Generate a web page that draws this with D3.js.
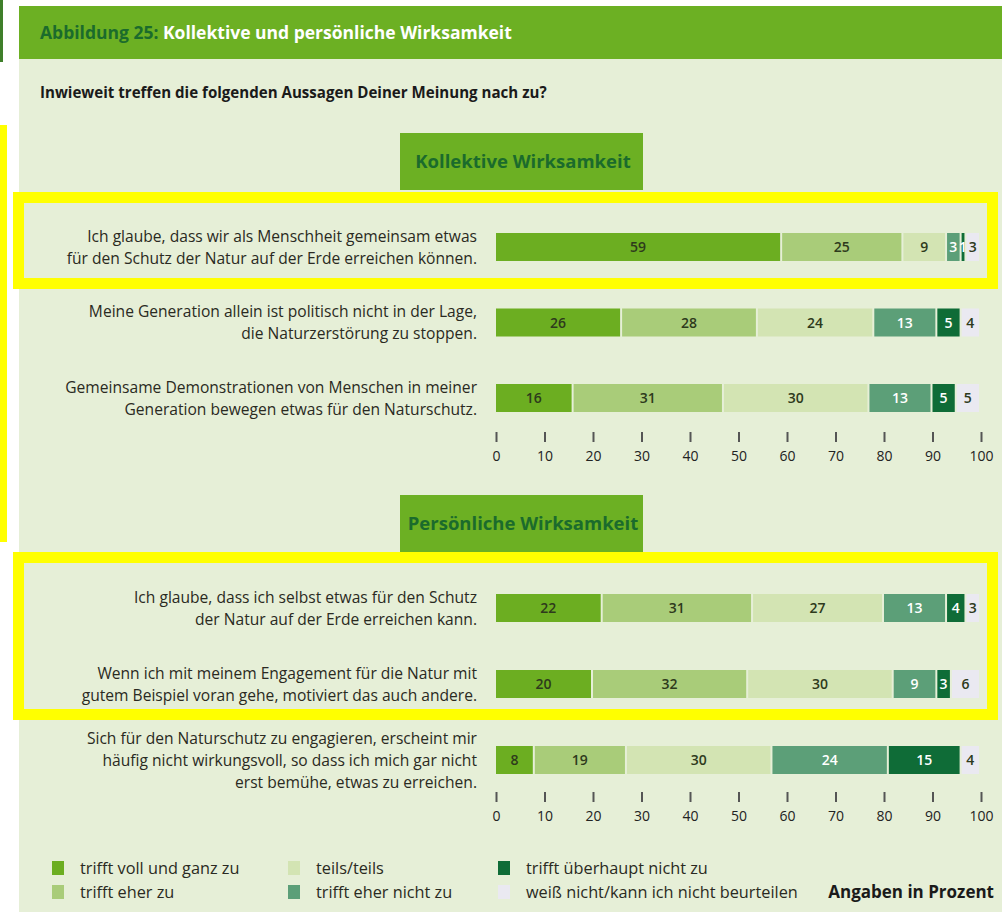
<!DOCTYPE html>
<html>
<head>
<meta charset="utf-8">
<script src="https://cdn.jsdelivr.net/npm/d3@7"></script>
<style>
  body { margin: 0; background: #fff; }
  text { font-family: "Open Sans", Lato, sans-serif; }
</style>
</head>
<body>
<div id="chart"></div>
<script>
// Statements (left labels), split into lines
var categories = [
  "Ich glaube, dass wir als Menschheit gemeinsam etwas\nfür den Schutz der Natur auf der Erde erreichen können.",
  "Meine Generation allein ist politisch nicht in der Lage,\ndie Naturzerstörung zu stoppen.",
  "Gemeinsame Demonstrationen von Menschen in meiner\nGeneration bewegen etwas für den Naturschutz.",
  "Ich glaube, dass ich selbst etwas für den Schutz\nder Natur auf der Erde erreichen kann.",
  "Wenn ich mit meinem Engagement für die Natur mit\ngutem Beispiel voran gehe, motiviert das auch andere.",
  "Sich für den Naturschutz zu engagieren, erscheint mir\nhäufig nicht wirkungsvoll, so dass ich mich gar nicht\nerst bemühe, etwas zu erreichen."
];
var sections = ["Kollektive Wirksamkeit", "Persönliche Wirksamkeit"];
var sectionRows = [[0, 1, 2], [3, 4, 5]];

var responses = ["trifft voll und ganz zu", "trifft eher zu", "teils/teils",
                 "trifft eher nicht zu", "trifft überhaupt nicht zu",
                 "weiß nicht/kann ich nicht beurteilen"];

// values in percent, one array per answer
var valVoll        = [59, 26, 16, 22, 20,  8];
var valEher        = [25, 28, 31, 31, 32, 19];
var valTeils       = [ 9, 24, 30, 27, 30, 30];
var valEherNicht   = [ 3, 13, 13, 13,  9, 24];
var valUeberhaupt  = [ 1,  5,  5,  4,  3, 15];
var valWeissNicht  = [ 3,  4,  5,  3,  6,  4];

var ticks = [0, 10, 20, 30, 40, 50, 60, 70, 80, 90, 100];

var colors = ["#6cae21", "#a9cc79", "#d3e4b3", "#5c9f78", "#0f6c37", "#eae9f1"];
var labelColors = ["#2e3a1c", "#2e3a1c", "#2e3a1c", "#ffffff", "#ffffff", "#2e3a1c"];

var W = 1002, H = 912;
var svg = d3.select("#chart").append("svg")
  .attr("width", W)
  .attr("height", H);

// background pieces
svg.append("rect").attr("x", 19).attr("y", 6).attr("width", W - 19).attr("height", H - 6).attr("fill", "#e6efd7");
svg.append("rect").attr("x", 19).attr("y", 6).attr("width", W - 19).attr("height", 53).attr("fill", "#6cb023");
svg.append("rect").attr("x", 0).attr("y", 0).attr("width", 3).attr("height", 62).attr("fill", "#3f7f2a");

// title
var title = svg.append("text")
  .attr("x", 40).attr("y", 39)
  .attr("font-size", 17.5).attr("font-weight", "bold");
title.append("tspan").attr("fill", "#1b6b2c").text("Abbildung 25: ");
title.append("tspan").attr("fill", "#ffffff").text("Kollektive und persönliche Wirksamkeit");

svg.append("text")
  .attr("x", 40).attr("y", 97.5)
  .attr("font-size", 15.1).attr("font-weight", "bold").attr("fill", "#1a1a1a")
  .text("Inwieweit treffen die folgenden Aussagen Deiner Meinung nach zu?");

// data table for stacking
var table = categories.map(function(c, i) {
  return {
    cat: i,
    v0: valVoll[i], v1: valEher[i], v2: valTeils[i],
    v3: valEherNicht[i], v4: valUeberhaupt[i], v5: valWeissNicht[i]
  };
});
var stack = d3.stack().keys(["v0", "v1", "v2", "v3", "v4", "v5"]);
var series = stack(table);

var x = d3.scaleLinear().domain([0, 100]).range([496, 981]);
var barH = 28;

// one scale per section
var yScales = [
  d3.scalePoint().domain(sectionRows[0]).range([247, 398]),
  d3.scalePoint().domain(sectionRows[1]).range([608, 760])
];
var boxY = [133, 495];
var axisY = [432, 792];

sections.forEach(function(name, s) {
  var y = yScales[s];

  // section heading box
  svg.append("rect")
    .attr("x", 400).attr("y", boxY[s]).attr("width", 243).attr("height", 57)
    .attr("fill", "#6cb023");
  svg.append("text")
    .attr("x", 523).attr("y", boxY[s] + 35)
    .attr("text-anchor", "middle")
    .attr("font-size", 18.5).attr("font-weight", "bold").attr("fill", "#1b6b2c")
    .text(name);

  // left labels
  sectionRows[s].forEach(function(i) {
    var lines = categories[i].split("\n");
    var t = svg.append("text")
      .attr("text-anchor", "end")
      .attr("font-size", 15.6).attr("fill", "#2a2a22");
    lines.forEach(function(l, k) {
      t.append("tspan")
        .attr("x", 477)
        .attr("y", y(i) + (k - (lines.length - 1) / 2) * 22 + 5.5)
        .text(l);
    });
  });

  // bars
  series.forEach(function(ser, j) {
    var rows = ser.filter(function(d) { return sectionRows[s].indexOf(d.data.cat) >= 0; });
    var g = svg.append("g");
    g.selectAll("rect")
      .data(rows)
      .enter()
      .append("rect")
        .attr("x", function(d) { return x(d[0]); })
        .attr("y", function(d) { return y(d.data.cat) - barH / 2; })
        .attr("width", function(d) { return Math.max(0, x(d[1]) - x(d[0]) - 2); })
        .attr("height", barH)
        .attr("fill", colors[j]);
    g.selectAll("text")
      .data(rows)
      .enter()
      .append("text")
        .attr("x", function(d) { return (x(d[0]) + x(d[1]) - 2) / 2; })
        .attr("y", function(d) { return y(d.data.cat) + 5; })
        .attr("text-anchor", "middle")
        .attr("font-size", 14)
        .attr("font-weight", 600)
        .attr("fill", labelColors[j])
        .text(function(d) { return d[1] - d[0]; });
  });

  // axis
  var ax = svg.append("g")
    .attr("transform", "translate(0," + axisY[s] + ")")
    .call(d3.axisBottom(x).tickValues(ticks).tickSize(10).tickPadding(9));
  ax.select(".domain").remove();
  ax.selectAll(".tick line").attr("stroke", "#555").attr("stroke-width", 2);
  ax.selectAll(".tick text")
    .attr("font-family", "'Open Sans', Lato, sans-serif")
    .attr("font-size", 14).attr("fill", "#222");
});

// legend
var legendPos = [
  [52, 868], [52, 892], [288, 868], [288, 892], [498, 868], [498, 892]
];
responses.forEach(function(r, j) {
  var p = legendPos[j];
  svg.append("rect")
    .attr("x", p[0]).attr("y", p[1] - 7).attr("width", 12).attr("height", 14)
    .attr("fill", colors[j]);
  svg.append("text")
    .attr("x", p[0] + 28).attr("y", p[1] + 5.5)
    .attr("font-size", 16.3).attr("fill", "#2a2a22")
    .text(r);
});
svg.append("text")
  .attr("x", 994).attr("y", 898)
  .attr("text-anchor", "end")
  .attr("font-size", 17).attr("font-weight", "bold").attr("fill", "#1a1a1a")
  .text("Angaben in Prozent");

// yellow highlight frames
svg.append("rect").attr("x", 0).attr("y", 125).attr("width", 7).attr("height", 417).attr("fill", "#ffff00");
svg.append("rect")
  .attr("x", 18.5).attr("y", 197.5).attr("width", 974).attr("height", 86)
  .attr("fill", "none").attr("stroke", "#ffff00").attr("stroke-width", 11);
svg.append("rect")
  .attr("x", 18.5).attr("y", 557.5).attr("width", 974).attr("height", 157)
  .attr("fill", "none").attr("stroke", "#ffff00").attr("stroke-width", 11);
</script>
</body>
</html>
